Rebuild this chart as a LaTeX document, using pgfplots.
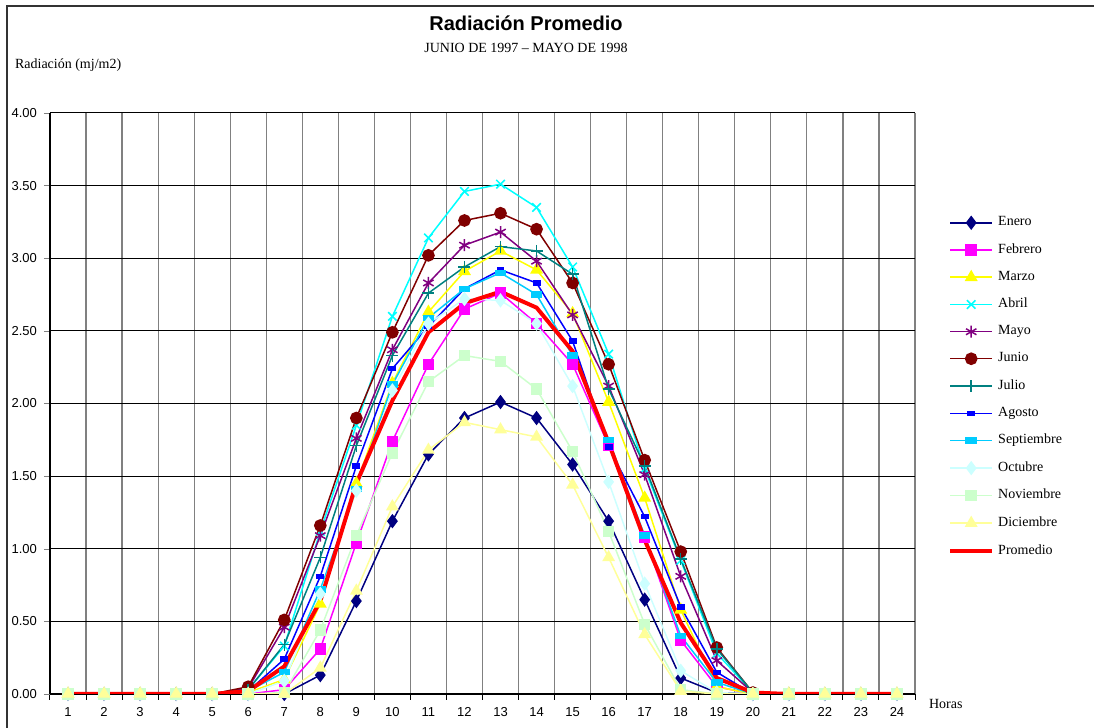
\documentclass[border=0pt]{standalone}
\usepackage{pgfplots}
\usepackage{pgfplotstable}
\pgfplotsset{compat=1.18}
\usepackage{fontspec}
\setmainfont{Liberation Serif}
\newfontfamily\arial{Liberation Sans}

\definecolor{cEne}{RGB}{0,0,128}
\definecolor{cFeb}{RGB}{255,0,255}
\definecolor{cMar}{RGB}{255,255,0}
\definecolor{cAbr}{RGB}{0,255,255}
\definecolor{cMay}{RGB}{128,0,128}
\definecolor{cJun}{RGB}{128,0,0}
\definecolor{cJul}{RGB}{0,128,128}
\definecolor{cAgo}{RGB}{0,0,255}
\definecolor{cSep}{RGB}{0,204,255}
\definecolor{cOct}{RGB}{204,255,255}
\definecolor{cNov}{RGB}{204,255,204}
\definecolor{cDic}{RGB}{255,255,153}
\definecolor{cProm}{RGB}{255,0,0}

% radiacion promedio por hora, mj/m2
\pgfplotstableread{
h  Ene  Feb  Mar  Abr  May  Jun  Jul  Ago  Sep  Oct  Nov  Dic  Prom
1  0    0    0    0    0    0    0    0    0    0    0    0    0
2  0    0    0    0    0    0    0    0    0    0    0    0    0
3  0    0    0    0    0    0    0    0    0    0    0    0    0
4  0    0    0    0    0    0    0    0    0    0    0    0    0
5  0    0    0    0    0    0    0    0    0    0    0    0    0
6  0    0    0.01 0.03 0.04 0.05 0.03 0.02 0.02 0    0    0    0.02
7  0    0.03 0.10 0.33 0.46 0.51 0.34 0.24 0.15 0.09 0.01 0    0.19
8  0.13 0.31 0.62 1.12 1.09 1.16 0.94 0.81 0.72 0.69 0.44 0.18 0.64
9  0.64 1.04 1.45 1.85 1.76 1.90 1.71 1.57 1.41 1.40 1.09 0.71 1.45
10 1.19 1.74 2.14 2.60 2.37 2.49 2.33 2.24 2.13 2.09 1.66 1.29 2.02
11 1.65 2.27 2.63 3.14 2.83 3.02 2.76 2.53 2.59 2.55 2.15 1.68 2.49
12 1.90 2.65 2.91 3.46 3.09 3.26 2.94 2.79 2.79 2.72 2.33 1.87 2.69
13 2.01 2.76 3.05 3.51 3.18 3.31 3.08 2.92 2.90 2.71 2.29 1.82 2.77
14 1.90 2.55 2.92 3.35 2.98 3.20 3.05 2.83 2.75 2.55 2.10 1.77 2.66
15 1.58 2.27 2.62 2.94 2.61 2.83 2.89 2.43 2.33 2.12 1.67 1.44 2.36
16 1.19 1.71 2.01 2.34 2.12 2.27 2.10 1.70 1.75 1.46 1.12 0.94 1.73
17 0.65 1.08 1.35 1.55 1.51 1.61 1.57 1.22 1.09 0.76 0.48 0.41 1.06
18 0.11 0.37 0.58 0.92 0.81 0.98 0.93 0.60 0.40 0.16 0.03 0.02 0.49
19 0.01 0.05 0.05 0.28 0.23 0.32 0.31 0.15 0.08 0.01 0    0    0.11
20 0    0    0    0.01 0.01 0.01 0.01 0    0    0    0    0    0.01
21 0    0    0    0    0    0    0    0    0    0    0    0    0
22 0    0    0    0    0    0    0    0    0    0    0    0    0
23 0    0    0    0    0    0    0    0    0    0    0    0    0
24 0    0    0    0    0    0    0    0    0    0    0    0    0
}\datos

\begin{document}
\begin{tikzpicture}
\begin{axis}[
    at={(0pt,0pt)}, anchor=south west,
    scale only axis, width=432.5pt, height=290.5pt,
    xmin=0.5, xmax=24.5, ymin=0, ymax=4,
    axis x line*=bottom, axis y line*=left,
    axis line style={-, black, line width=0.6pt},
    xtick={1,...,24}, major x tick style={draw=none},
    minor xtick={0.5,1.5,...,24.5},
    minor x tick style={black, line width=0.5pt},
    xminorgrids, minor x grid style={gray, line width=0.6pt},
    ytick={0,0.5,...,4}, ymajorgrids,
    major y grid style={black, line width=0.5pt},
    tick align=outside, major tick length=3pt, minor tick length=3pt,
    ticklabel style={font=\arial\fontsize{6.5}{7}\selectfont},
    /pgf/number format/assume math mode=true,
    yticklabel={\pgfmathprintnumber[fixed,fixed zerofill,precision=2]{\tick}},
    every axis plot/.append style={line width=0.75pt},
    mark size=2.5pt,
    legend style={at={(1.031,0.836)}, anchor=north west, draw=none, fill=none,
        font=\fontsize{7}{8}\selectfont, row sep=3.4pt,
        /tikz/every even column/.append style={column sep=2pt}},
    legend cell align=left,
    legend image code/.code={\draw[mark repeat=2,mark phase=2]
        plot coordinates {(0pt,0pt) (10.5pt,0pt) (21pt,0pt)};},
]
\addplot[color=cEne, mark=diamond*, mark size=3pt] table[x=h,y=Ene]{\datos};
\addlegendentry{Enero}
\addplot[color=cFeb, mark=square*] table[x=h,y=Feb]{\datos};
\addlegendentry{Febrero}
\addplot[color=cMar, mark=triangle*, mark size=3pt] table[x=h,y=Mar]{\datos};
\addlegendentry{Marzo}
\addplot[color=cAbr, mark=x, mark size=3pt] table[x=h,y=Abr]{\datos};
\addlegendentry{Abril}
\addplot[color=cMay, mark=asterisk, mark size=3pt] table[x=h,y=May]{\datos};
\addlegendentry{Mayo}
\addplot[color=cJun, mark=*, mark size=2.8pt] table[x=h,y=Jun]{\datos};
\addlegendentry{Junio}
\addplot[color=cJul, mark=+, mark size=3pt] table[x=h,y=Jul]{\datos};
\addlegendentry{Julio}
\addplot[color=cAgo, mark=square*, mark size=1.6pt, mark options={yscale=0.6}] table[x=h,y=Ago]{\datos};
\addlegendentry{Agosto}
\addplot[color=cSep, mark=square*, mark size=2.5pt, mark options={yscale=0.5}] table[x=h,y=Sep]{\datos};
\addlegendentry{Septiembre}
\addplot[color=cOct, mark=diamond*, mark size=3pt] table[x=h,y=Oct]{\datos};
\addlegendentry{Octubre}
\addplot[color=cNov, mark=square*] table[x=h,y=Nov]{\datos};
\addlegendentry{Noviembre}
\addplot[color=cDic, mark=triangle*, mark size=3pt] table[x=h,y=Dic]{\datos};
\addlegendentry{Diciembre}
\addplot[color=cProm, line width=2pt, mark=none] table[x=h,y=Prom]{\datos};
\addlegendentry{Promedio}
\end{axis}
\node[font=\arial\bfseries\fontsize{10}{12}\selectfont] at (238pt,335.5pt) {Radiación Promedio};
\node[font=\fontsize{7}{8}\selectfont] at (238pt,323pt) {JUNIO DE 1997 -- MAYO DE 1998};
\node[font=\fontsize{7}{8}\selectfont, anchor=west] at (-21pt,314.5pt) {Radiación (mj/m2)};
\node[font=\fontsize{7}{8}\selectfont, anchor=west] at (436pt,-5pt) {Horas};
\draw[black!80, line width=0.8pt] (-21.5pt,-17pt) -- (-21.5pt,344pt) -- (522pt,344pt);
\pgfresetboundingbox
\useasboundingbox (-25pt,-17pt) rectangle (522pt,347pt);
\end{tikzpicture}
\end{document}
